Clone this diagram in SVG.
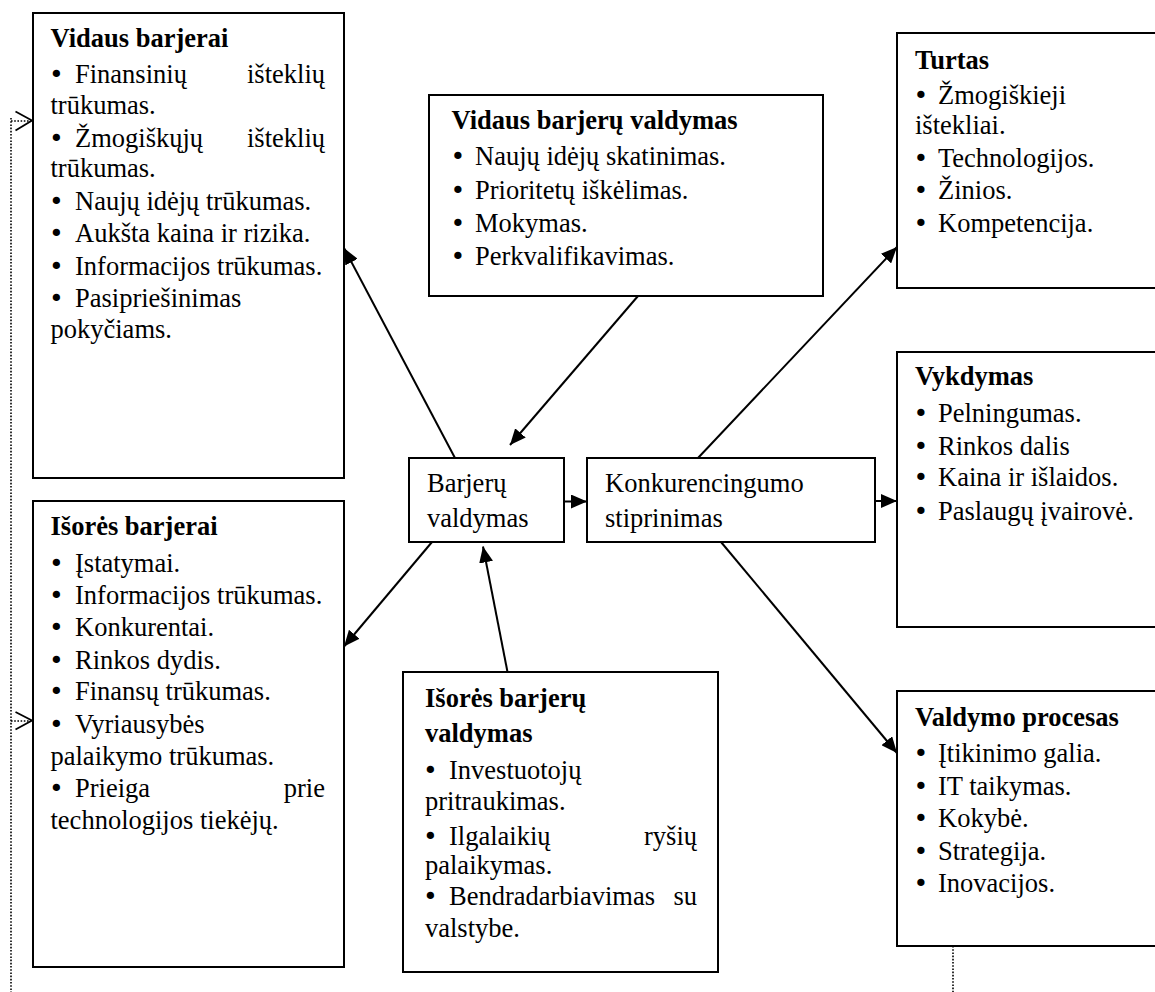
<svg xmlns="http://www.w3.org/2000/svg" width="1155" height="992" viewBox="0 0 1155 992">
  <style>
    .box { fill: #ffffff; stroke: #000000; stroke-width: 2; }
    text { font-family: "Liberation Serif", "Times New Roman", serif; font-size: 26.5px; fill: #000000; }
    .h { font-weight: bold; }
    .b { font-family: "DejaVu Sans", sans-serif; font-size: 25px; }
    .end { text-anchor: end; }
    .link { fill: none; stroke: #000000; stroke-width: 2; marker-end: url(#solid); }
    .dots { fill: none; stroke: #000000; stroke-width: 1.6; stroke-dasharray: 1.6 1.6; }
    .chevron { fill: none; stroke: #000000; stroke-width: 1.8; }
  </style>
  <defs>
    <marker id="solid" viewBox="0 0 16 14" refX="16" refY="7" markerWidth="16" markerHeight="14" markerUnits="userSpaceOnUse" orient="auto">
      <path d="M0,0 L16,7 L0,14 Z" fill="#000000"/>
    </marker>
  </defs>

  <rect width="1155" height="992" fill="#ffffff"/>

  <!-- connectors -->
  <g id="connectors">
    <path class="link" d="M564,501.5 L587,501.5"/>
    <path class="link" d="M875,501 L897,501"/>
    <path class="link" d="M455,458 L344,248"/>
    <path class="link" d="M638,296 L510,445"/>
    <path class="link" d="M432,542 L344,646.5"/>
    <path class="link" d="M507.5,672 L483,546.5"/>
    <path class="link" d="M698,458 L897,247"/>
    <path class="link" d="M721,542 L897,753"/>
    <!-- dotted feedback lines with open heads -->
    <path class="dots" d="M11,118 L11,992"/>
    <path class="dots" d="M11,121 L31,121"/>
    <path class="chevron" d="M15.5,111.5 L32,120.5 L15.5,130.5"/>
    <path class="dots" d="M11,721 L31,721"/>
    <path class="chevron" d="M15.5,712 L32,720.5 L15.5,729.5"/>
    <path class="dots" d="M953,946 L953,992"/>
  </g>

  <!-- internal barriers -->
  <g id="vidaus-barjerai">
    <rect class="box" x="33" y="13" width="311" height="465"/>
    <text class="h" x="50.5" y="46.5">Vidaus barjerai</text>
    <text class="b" x="49" y="83">•</text><text x="75" y="83">Finansinių</text><text class="end" x="325" y="83">išteklių</text>
    <text x="50.5" y="113.5">trūkumas.</text>
    <text class="b" x="49" y="147">•</text><text x="75" y="147">Žmogiškųjų</text><text class="end" x="325" y="147">išteklių</text>
    <text x="50.5" y="177">trūkumas.</text>
    <text class="b" x="49" y="210">•</text><text x="75" y="210">Naujų idėjų trūkumas.</text>
    <text class="b" x="49" y="242">•</text><text x="75" y="242">Aukšta kaina ir rizika.</text>
    <text class="b" x="49" y="275">•</text><text x="75" y="275">Informacijos trūkumas.</text>
    <text class="b" x="49" y="307">•</text><text x="75" y="307">Pasipriešinimas</text>
    <text x="50.5" y="337.5">pokyčiams.</text>
  </g>

  <!-- external barriers -->
  <g id="isores-barjerai">
    <rect class="box" x="33" y="501" width="311" height="466"/>
    <text class="h" x="50.5" y="535">Išorės barjerai</text>
    <text class="b" x="49" y="571.5">•</text><text x="75" y="571.5">Įstatymai.</text>
    <text class="b" x="49" y="603.5">•</text><text x="75" y="603.5">Informacijos trūkumas.</text>
    <text class="b" x="49" y="636">•</text><text x="75" y="636">Konkurentai.</text>
    <text class="b" x="49" y="668.5">•</text><text x="75" y="668.5">Rinkos dydis.</text>
    <text class="b" x="49" y="700">•</text><text x="75" y="700">Finansų trūkumas.</text>
    <text class="b" x="49" y="733">•</text><text x="75" y="733">Vyriausybės</text>
    <text x="50.5" y="765">palaikymo trūkumas.</text>
    <text class="b" x="49" y="797">•</text><text x="75" y="797">Prieiga</text><text class="end" x="325" y="797">prie</text>
    <text x="50.5" y="828.5">technologijos tiekėjų.</text>
  </g>

  <!-- managing internal barriers -->
  <g id="vidaus-barjeru-valdymas">
    <rect class="box" x="429" y="95" width="394" height="201"/>
    <text class="h" x="451.5" y="128.5">Vidaus barjerų valdymas</text>
    <text class="b" x="450.5" y="165">•</text><text x="475" y="165">Naujų idėjų skatinimas.</text>
    <text class="b" x="450.5" y="198.5">•</text><text x="475" y="198.5">Prioritetų iškėlimas.</text>
    <text class="b" x="450.5" y="231.5">•</text><text x="475" y="231.5">Mokymas.</text>
    <text class="b" x="450.5" y="265">•</text><text x="475" y="265">Perkvalifikavimas.</text>
  </g>

  <!-- central node -->
  <g id="barjeru-valdymas">
    <rect class="box" x="409" y="458" width="155" height="84"/>
    <text x="427" y="491.5">Barjerų</text>
    <text x="427" y="526.5">valdymas</text>
  </g>

  <!-- competitiveness -->
  <g id="konkurencingumo-stiprinimas">
    <rect class="box" x="587" y="458" width="288" height="84"/>
    <text x="605" y="491.5">Konkurencingumo</text>
    <text x="605" y="526.5">stiprinimas</text>
  </g>

  <!-- managing external barriers -->
  <g id="isores-barjeru-valdymas">
    <rect class="box" x="403" y="672" width="315" height="300"/>
    <text class="h" x="425" y="707">Išorės barjerų</text>
    <text class="h" x="425" y="742">valdymas</text>
    <text class="b" x="423" y="779">•</text><text x="449" y="779">Investuotojų</text>
    <text x="425" y="809.5">pritraukimas.</text>
    <text class="b" x="423" y="845">•</text><text x="449" y="845">Ilgalaikių</text><text class="end" x="697" y="845">ryšių</text>
    <text x="425" y="873.5">palaikymas.</text>
    <text class="b" x="423" y="905">•</text><text x="449" y="905">Bendradarbiavimas</text><text class="end" x="697" y="905">su</text>
    <text x="425" y="937">valstybe.</text>
  </g>

  <!-- assets -->
  <g id="turtas">
    <rect class="box" x="897" y="33" width="270" height="255"/>
    <text class="h" x="915" y="68.5">Turtas</text>
    <text class="b" x="913.5" y="103.5">•</text><text x="938" y="103.5">Žmogiškieji</text>
    <text x="915" y="133.5">ištekliai.</text>
    <text class="b" x="913.5" y="167">•</text><text x="938" y="167">Technologijos.</text>
    <text class="b" x="913.5" y="198.5">•</text><text x="938" y="198.5">Žinios.</text>
    <text class="b" x="913.5" y="232">•</text><text x="938" y="232">Kompetencija.</text>
  </g>

  <!-- performance -->
  <g id="vykdymas">
    <rect class="box" x="897" y="352" width="270" height="275"/>
    <text class="h" x="915" y="385">Vykdymas</text>
    <text class="b" x="913.5" y="422">•</text><text x="938" y="422">Pelningumas.</text>
    <text class="b" x="913.5" y="455">•</text><text x="938" y="455">Rinkos dalis</text>
    <text class="b" x="913.5" y="486">•</text><text x="938" y="486">Kaina ir išlaidos.</text>
    <text class="b" x="913.5" y="519.5">•</text><text x="938" y="519.5">Paslaugų įvairovė.</text>
  </g>

  <!-- management process -->
  <g id="valdymo-procesas">
    <rect class="box" x="897" y="691" width="270" height="255"/>
    <text class="h" x="915" y="726">Valdymo procesas</text>
    <text class="b" x="913.5" y="762">•</text><text x="938" y="762">Įtikinimo galia.</text>
    <text class="b" x="913.5" y="795">•</text><text x="938" y="795">IT taikymas.</text>
    <text class="b" x="913.5" y="827">•</text><text x="938" y="827">Kokybė.</text>
    <text class="b" x="913.5" y="860">•</text><text x="938" y="860">Strategija.</text>
    <text class="b" x="913.5" y="892">•</text><text x="938" y="892">Inovacijos.</text>
  </g>
</svg>
